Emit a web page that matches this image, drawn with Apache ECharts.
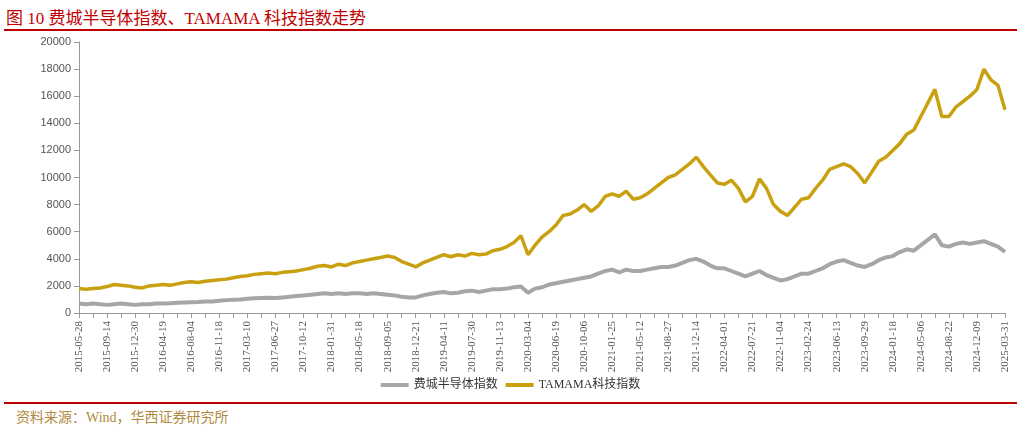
<!DOCTYPE html><html><head><meta charset="utf-8"><script src="https://cdn.jsdelivr.net/npm/echarts@6/dist/echarts.min.js"></script>
<style>body{margin:0;background:#fff}#t{position:absolute;left:6px;top:4px;font:17px "Liberation Serif","Noto Sans CJK SC",serif;color:#C00000}
#l1{position:absolute;left:4px;top:29px;width:1013px;height:2px;background:#C00000}
#l2{position:absolute;left:4px;top:402px;width:1013px;height:2px;background:#C00000}
#s{position:absolute;left:16px;top:406px;font:14px "Liberation Serif","Noto Sans CJK SC",serif;color:#B08A40}
#c{position:absolute;left:0;top:32px;width:1021px;height:370px}</style></head><body>
<div id="t">图 10 费城半导体指数、TAMAMA 科技指数走势</div><div id="l1"></div><div id="c"></div><div id="l2"></div><div id="s">资料来源：Wind，华西证券研究所</div>
<script>
const tickLabels=["2015-05-28","2015-09-14","2015-12-30","2016-04-19","2016-08-04","2016-11-18","2017-03-10","2017-06-27","2017-10-12","2018-01-31","2018-05-18","2018-09-05","2018-12-21","2019-04-11","2019-07-30","2019-11-13","2020-03-04","2020-06-19","2020-10-06","2021-01-25","2021-05-12","2021-08-27","2021-12-14","2022-04-01","2022-07-21","2022-11-04","2023-02-24","2023-06-13","2023-09-29","2024-01-18","2024-05-06","2024-08-22","2024-12-09","2025-03-31"];
const tamama=[1800,1750,1800,1850,1950,2100,2050,2000,1900,1850,2000,2050,2100,2050,2150,2250,2300,2250,2350,2400,2450,2500,2600,2700,2750,2850,2900,2950,2900,3000,3050,3100,3200,3300,3450,3500,3400,3600,3500,3700,3800,3900,4000,4100,4200,4100,3800,3600,3400,3700,3900,4100,4300,4150,4300,4200,4400,4300,4350,4600,4700,4900,5200,5700,4300,5000,5600,6000,6500,7200,7300,7600,8000,7500,7900,8600,8800,8600,9000,8400,8500,8800,9200,9600,10000,10200,10600,11000,11500,10800,10200,9600,9500,9800,9200,8200,8600,9900,9200,8000,7500,7200,7800,8400,8500,9200,9800,10600,10800,11000,10800,10300,9600,10400,11200,11500,12000,12500,13200,13500,14500,15500,16500,14500,14500,15200,15600,16000,16500,18000,17200,16800,15000];
const sox=[700,650,700,650,600,650,700,650,600,650,650,700,700,720,750,780,800,820,850,850,900,950,980,1000,1050,1080,1100,1120,1100,1150,1200,1250,1300,1350,1400,1450,1400,1450,1400,1450,1450,1400,1450,1400,1350,1300,1200,1150,1150,1300,1400,1500,1550,1450,1500,1600,1650,1550,1650,1750,1750,1800,1900,1950,1500,1800,1900,2100,2200,2300,2400,2500,2600,2700,2900,3100,3200,3000,3200,3100,3100,3200,3300,3400,3400,3500,3700,3900,4000,3800,3500,3300,3300,3100,2900,2700,2900,3100,2800,2600,2400,2500,2700,2900,2900,3100,3300,3600,3800,3900,3700,3500,3400,3600,3900,4100,4200,4500,4700,4600,5000,5400,5800,5000,4900,5100,5200,5100,5200,5300,5100,4900,4500];
const cats=[];
for(let i=0;i<tickLabels.length;i++){cats.push(tickLabels[i]);if(i<tickLabels.length-1){const a=new Date(tickLabels[i]),b=new Date(tickLabels[i+1]);for(let k=1;k<4;k++){cats.push(new Date(a.getTime()+(b-a)*k/4).toISOString().slice(0,10));}}}
const ch=echarts.init(document.getElementById('c'));
const f='"Liberation Serif",serif';
ch.setOption({animation:false,grid:{left:79,right:16,top:10,bottom:89},
legend:{bottom:6,left:'center',itemWidth:28,itemHeight:4,icon:'rect',textStyle:{fontFamily:'"Liberation Serif","Noto Sans CJK SC"',fontSize:12,color:'#333'},data:['费城半导体指数','TAMAMA科技指数']},
xAxis:{type:'category',data:cats,boundaryGap:false,axisLine:{lineStyle:{color:'#999'}},axisTick:{interval:1,lineStyle:{color:'#999'}},axisLabel:{interval:3,rotate:90,fontFamily:f,fontSize:11,color:'#555'}},
yAxis:{type:'value',min:0,max:20000,interval:2000,splitLine:{show:false},axisLine:{show:true,lineStyle:{color:'#999'}},axisTick:{show:true},axisLabel:{formatter:v=>String(v),fontFamily:'"Liberation Sans"',fontSize:11,color:'#555'}},
series:[{name:'费城半导体指数',type:'line',data:sox,showSymbol:false,lineStyle:{width:4,color:'#A6A6A6'},itemStyle:{color:'#A6A6A6'}},
{name:'TAMAMA科技指数',type:'line',data:tamama,showSymbol:false,lineStyle:{width:3.5,color:'#C9A010'},itemStyle:{color:'#C9A010'}}]});
</script></body></html>
